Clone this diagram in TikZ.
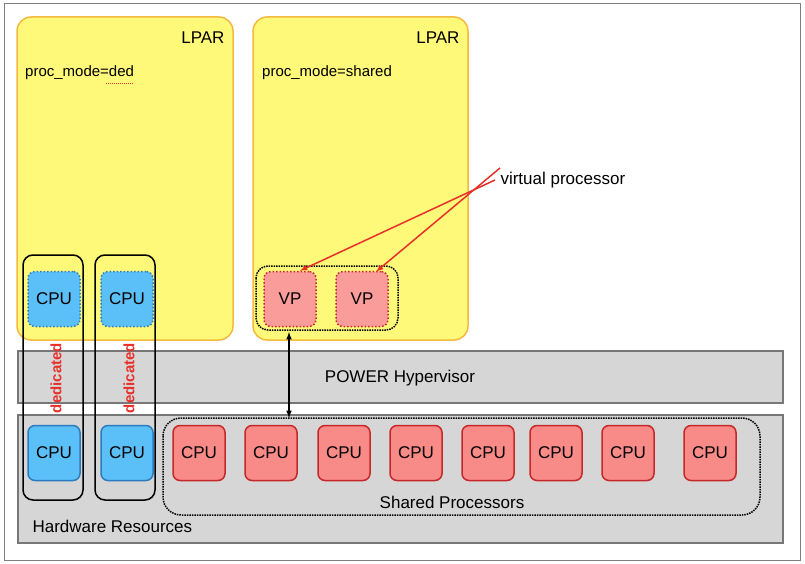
\documentclass[tikz,border=0pt]{standalone}
\usepackage{fontspec}
\setmainfont{Liberation Sans}
\usetikzlibrary{arrows}
\definecolor{lparfill}{HTML}{FFF97A}
\definecolor{lpardraw}{HTML}{F5B942}
\definecolor{hwfill}{HTML}{D6D6D6}
\definecolor{hwdraw}{HTML}{777777}
\definecolor{bluecpu}{HTML}{5BC0F8}
\definecolor{bluedraw}{HTML}{2B7BC0}
\definecolor{redcpu}{HTML}{F88A88}
\definecolor{reddraw}{HTML}{C62828}
\definecolor{arrowred}{HTML}{E8302A}
\begin{document}
\begin{tikzpicture}[x=1pt,y=-1pt,font=\fontsize{17}{20}\selectfont,
  lpar/.style={draw=lpardraw,fill=lparfill,line width=1.5pt,rounded corners=14pt},
  layer/.style={draw=hwdraw,fill=hwfill,line width=1.5pt},
  group/.style={draw,line width=1.5pt,rounded corners=10pt},
  cpu/.style={minimum width=52pt,minimum height=55pt,rounded corners=7pt,line width=1.5pt,inner sep=0pt},
  ded cpu/.style={cpu,fill=bluecpu,draw=bluedraw},
  shr cpu/.style={cpu,fill=redcpu,draw=reddraw},
  vp/.style={cpu,fill=redcpu!85,draw=reddraw,dotted},
  ded/.style={rotate=90,text=arrowred,font=\fontsize{15}{18}\selectfont\bfseries}]
\useasboundingbox (0,0) rectangle (805,564);
\draw[gray,line width=1pt] (4,4) rectangle (800,560);
% partitions
\draw[lpar] (17,17) rectangle (233,340);
\draw[lpar] (253,17) rectangle (468,340);
\node (lpar1) [anchor=east] at (228,38) {LPAR};
\node (lpar2) [anchor=east] at (463,38) {LPAR};
\node (mode1) [anchor=west,inner sep=0pt,font=\fontsize{15}{18}\selectfont] at (25,73) {proc\_mode=ded};
\node (mode2) [anchor=west,inner sep=0pt,font=\fontsize{15}{18}\selectfont] at (262,73) {proc\_mode=shared};
\draw[arrowred,densely dotted,line width=1pt] (mode1.south east) ++(-28,3) -- ++(28,0);
% layers
\draw[layer] (18,351) rectangle (783,403);
\draw[layer] (18,415) rectangle (783,543);
\node (hyp) at (400,378) {POWER Hypervisor};
\node (hw) [anchor=west] at (29,526) {Hardware Resources};
% dedicated
\draw[group] (23,255) rectangle (83,500);
\draw[group] (95,255) rectangle (155,500);
\node[ded cpu,dotted] (v1) at (54,299) {CPU};
\node[ded cpu,dotted] (v2) at (127,299) {CPU};
\node[ded cpu] (p1) at (54,453) {CPU};
\node[ded cpu] (p2) at (127,453) {CPU};
\node[ded] (d1) at (56,378) {dedicated};
\node[ded] (d2) at (129,378) {dedicated};
% shared
\draw[group,densely dotted,rounded corners=12pt] (256,266) rectangle (398,330);
\node[vp] (vp1) at (290,299) {VP};
\node[vp] (vp2) at (362,299) {VP};
\draw[group,densely dotted,rounded corners=18pt] (163,418) rectangle (760,515);
\foreach \i/\x in {1/199,2/271,3/344,4/416,5/488,6/556,7/628,8/710}
  \node[shr cpu] (s\i) at (\x,453) {CPU};
\node (shared) at (452,502) {Shared Processors};
\coordinate (hvtop) at (289,332);
\coordinate (hvbot) at (289,418);
\draw[<->,>=latex,line width=1.5pt] (hvtop) -- (hvbot);
% label
\node (vplabel) [anchor=west] at (497,180) {virtual processor};
\draw[->,>=latex,arrowred,line width=1.5pt] ([xshift=-2pt]vplabel.west) -- ([xshift=10pt]vp1.north);
\draw[->,>=latex,arrowred,line width=1.5pt] ([shift={(3pt,12pt)}]vplabel.west) -- ([xshift=14pt,yshift=-1pt]vp2.north);
\end{tikzpicture}
\end{document}
